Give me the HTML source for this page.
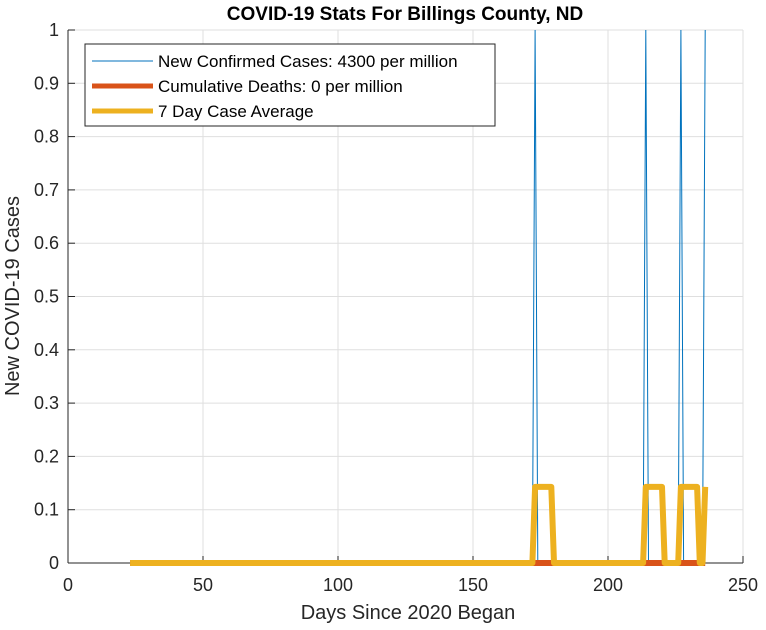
<!DOCTYPE html>
<html><head><meta charset="utf-8"><style>
body{margin:0;background:#fff;}
svg{display:block;font-family:"Liberation Sans",Arial,sans-serif;}
</style></head><body>
<svg id="chart" width="766" height="630">
<rect width="766" height="630" fill="#fff"/>
<text x="405" y="20" font-size="19" font-weight="bold" text-anchor="middle">COVID-19 Stats For Billings County, ND</text>
<g id="grid"></g>
<defs><clipPath id="clip"><rect x="60" y="30" width="690" height="545"/></clipPath></defs>
<g id="axes"></g>
<g id="series" clip-path="url(#clip)"></g>
<text x="408" y="619" font-size="20" text-anchor="middle" fill="#262626">Days Since 2020 Began</text>
<text transform="translate(19,296) rotate(-90)" font-size="20" text-anchor="middle" fill="#262626">New COVID-19 Cases</text>
<g>
<rect x="85" y="44" width="410" height="82" fill="#fff" stroke="#262626" stroke-width="1"/>
<line x1="92" y1="61" x2="153" y2="61" stroke="#0072BD" stroke-width="1"/>
<text x="158" y="67" font-size="17" fill="#000">New Confirmed Cases: 4300 per million</text>
<line x1="92" y1="86" x2="153" y2="86" stroke="#D95319" stroke-width="5"/>
<text x="158" y="92" font-size="17" fill="#000">Cumulative Deaths: 0 per million</text>
<line x1="92" y1="111" x2="153" y2="111" stroke="#EDB120" stroke-width="5"/>
<text x="158" y="117" font-size="17" fill="#000">7 Day Case Average</text>
</g>
</svg>
<script>
const startDay = 23;
const endDay = 236;
const spikeDays = [173, 214, 227, 236];
const spikeValues = [1, 1, 1, 1];
const deathValue = 0;
const xTicks = [0, 50, 100, 150, 200, 250];
const yTicks = [0, 0.1, 0.2, 0.3, 0.4, 0.5, 0.6, 0.7, 0.8, 0.9, 1];
const yTickLabels = ["0","0.1","0.2","0.3","0.4","0.5","0.6","0.7","0.8","0.9","1"];

const X = d => 68 + (d / 250) * 675;
const Y = v => 563 - v * 533;
const NS = "http://www.w3.org/2000/svg";
function mk(tag, attrs, parent){const e=document.createElementNS(NS,tag);for(const k in attrs)e.setAttribute(k,attrs[k]);parent.appendChild(e);return e;}
const grid=document.getElementById('grid'), axes=document.getElementById('axes'), series=document.getElementById('series');

xTicks.forEach(t=>{
  const g=mk('line',{x1:X(t),x2:X(t),y1:30,y2:563,stroke:'#dfdfdf','stroke-width':1},grid);
  
  
  mk('line',{x1:X(t),x2:X(t),y1:563,y2:556,stroke:'#262626','stroke-width':1},axes);
  const tx=mk('text',{x:X(t),y:591,'font-size':18,'text-anchor':'middle',fill:'#262626'},axes);
  tx.textContent=t;
  
  
});
yTicks.forEach((t,i)=>{
  const g=mk('line',{x1:68,x2:743,y1:Y(t),y2:Y(t),stroke:'#dfdfdf','stroke-width':1},grid);
  
  
  mk('line',{x1:68,x2:75,y1:Y(t),y2:Y(t),stroke:'#262626','stroke-width':1},axes);
  const tx=mk('text',{x:59,y:Y(t)+6,'font-size':18,'text-anchor':'end',fill:'#262626'},axes);
  tx.textContent=yTickLabels[i];
  
  
});
mk('line',{x1:68,x2:68,y1:30,y2:563,stroke:'#262626','stroke-width':1},axes);
mk('line',{x1:68,x2:743,y1:563,y2:563,stroke:'#262626','stroke-width':1},axes);

const days=[], cases=[], avg=[];
for(let d=startDay; d<=endDay; d++){days.push(d); const k=spikeDays.indexOf(d); cases.push(k>=0?spikeValues[k]:0);}
for(let i=0;i<days.length;i++){let s=0;for(let j=Math.max(0,i-6);j<=i;j++)s+=cases[j];avg.push(s/7);}
const pts=arr=>arr.map((v,i)=>X(days[i])+','+Y(v)).join(' ');

const c=mk('polyline',{points:pts(cases),fill:'none',stroke:'#0072BD','stroke-width':1},series);


const dl=mk('polyline',{points:pts(days.map(()=>deathValue)),fill:'none',stroke:'#D95319','stroke-width':6},series);


const a=mk('polyline',{points:pts(avg),fill:'none',stroke:'#EDB120','stroke-width':6,'stroke-linejoin':'round'},series);


</script>
</body></html>
